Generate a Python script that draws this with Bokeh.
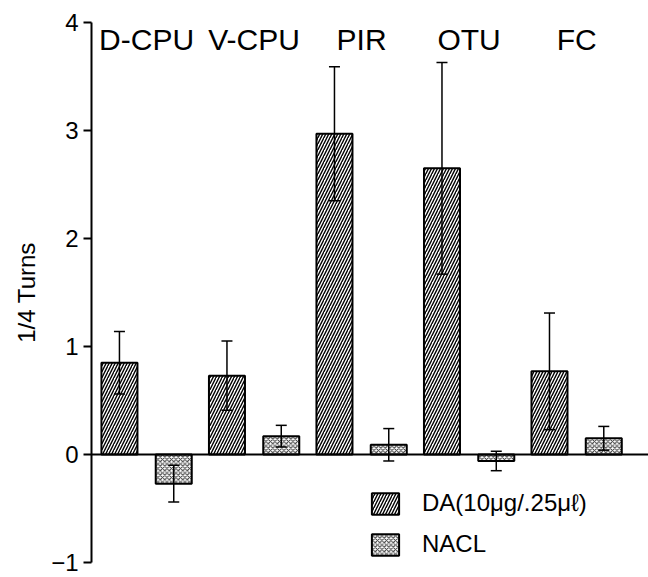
import numpy as np
from bokeh.plotting import figure
from bokeh.models import (ColumnDataSource, Whisker, TeeHead, Span, Legend,
                          LegendItem, FixedTicker, Range1d)
from bokeh.core.properties import value
from bokeh.embed import file_html
from bokeh.resources import INLINE

categories = ["D-CPU", "V-CPU", "PIR", "OTU", "FC"]
da_mean = [0.85, 0.73, 2.97, 2.65, 0.77]
da_err = [0.29, 0.32, 0.62, 0.98, 0.54]
nacl_mean = [-0.27, 0.17, 0.09, -0.06, 0.15]
nacl_err = [0.17, 0.10, 0.15, 0.09, 0.11]
y_ticks = [-1, 0, 1, 2, 3, 4]
da_label = "DA(10\u03bcg/.25\u03bc\u2113)"
nacl_label = "NACL"

FONT = "Liberation Sans"
offset = 0.505
bar_w = 0.335

idx = np.arange(len(categories))
da_x = idx.astype(float)
na_x = idx + offset

src_da = ColumnDataSource(dict(
    x=da_x, top=da_mean,
    upper=np.array(da_mean) + np.array(da_err),
    lower=np.array(da_mean) - np.array(da_err)))
src_na = ColumnDataSource(dict(
    x=na_x, top=nacl_mean,
    upper=np.array(nacl_mean) + np.array(nacl_err),
    lower=np.array(nacl_mean) - np.array(nacl_err)))

p = figure(width=648, height=577,
           x_range=Range1d(-0.26, 4.921), y_range=Range1d(-1, 4),
           output_backend="svg", toolbar_location=None, x_axis_location=None,
           min_border_left=91, min_border_right=0, min_border_top=22,
           min_border_bottom=15)
p.title.visible = False
p.outline_line_color = None
p.xgrid.visible = False
p.ygrid.visible = False
p.background_fill_color = "white"
p.border_fill_color = "white"

r_da = p.vbar(x="x", top="top", bottom=0, width=bar_w, source=src_da,
              fill_color="white", line_color="black", line_width=2,
              hatch_pattern="/", hatch_color="black", hatch_scale=6,
              hatch_weight=1.4)
r_na = p.vbar(x="x", top="top", bottom=0, width=bar_w, source=src_na,
              fill_color="white", line_color="black", line_width=2,
              hatch_pattern="x", hatch_color="#333333", hatch_scale=4.5,
              hatch_weight=1.0)

for src in (src_da, src_na):
    w = Whisker(source=src, base="x", upper="upper", lower="lower",
                line_width=1.5, line_color="black", level="annotation",
                upper_head=TeeHead(size=11, line_width=1.5),
                lower_head=TeeHead(size=11, line_width=1.5))
    p.add_layout(w)

p.add_layout(Span(location=0, dimension="width", line_color="black",
                  line_width=2))

p.text(x=idx + offset / 2, y=[3.84] * len(categories), text=categories,
       text_font=value(FONT), text_font_size="30px", text_align="center",
       text_baseline="alphabetic", text_color="black")

legend = Legend(items=[LegendItem(label=da_label, renderers=[r_da]),
                       LegendItem(label=nacl_label, renderers=[r_na])],
                location=(277, 4), glyph_width=34, glyph_height=27,
                label_height=27, label_standoff=20, spacing=13, padding=0,
                margin=0, border_line_color=None, background_fill_alpha=0,
                label_text_font=FONT, label_text_font_size="24px",
                label_text_color="black")
p.add_layout(legend)

ax = p.yaxis[0]
ax.ticker = FixedTicker(ticks=y_ticks)
ax.axis_line_width = 2
ax.axis_line_color = "black"
ax.major_tick_line_width = 2
ax.major_tick_line_color = "black"
ax.major_tick_out = 8
ax.major_tick_in = 0
ax.minor_tick_line_color = None
ax.major_label_text_font = FONT
ax.major_label_text_font_size = "24px"
ax.major_label_text_color = "black"
ax.major_label_standoff = 5
ax.axis_label = "1/4 Turns"
ax.axis_label_text_font = FONT
ax.axis_label_text_font_size = "24px"
ax.axis_label_text_font_style = "normal"
ax.axis_label_text_color = "black"
ax.axis_label_standoff = 8

open("out.html", "w").write(file_html(p, INLINE))
